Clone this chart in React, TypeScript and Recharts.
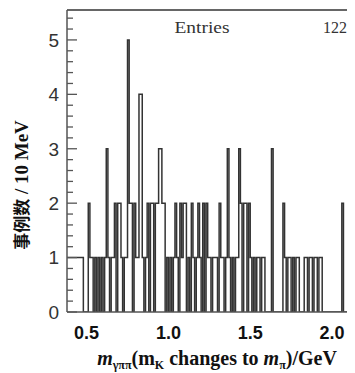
import React from 'react';
import { LineChart, Line, XAxis, YAxis, ReferenceLine, Label } from 'recharts';

// Histogram: events per 10 MeV bin, starting at 0.38 GeV
const binStart = 0.38;
const binWidth = 0.01;
const counts = [
  1, 1, 1, 1, 1, 1, 1, 1, 1, 1,
  0, 0, 0, 2, 1, 1, 0, 1, 0, 1,
  0, 1, 0, 1, 3, 1, 0, 1, 1, 2,
  0, 2, 2, 1, 0, 1, 1, 5, 2, 2,
  0, 2, 1, 1, 4, 4, 1, 0, 1, 2,
  0, 2, 2, 0, 2, 2, 3, 3, 2, 2,
  0, 1, 0, 1, 0, 1, 2, 1, 0, 2,
  1, 2, 2, 0, 1, 0, 2, 1, 0, 1,
  2, 1, 0, 2, 0, 2, 1, 1, 0, 1,
  1, 1, 0, 2, 1, 1, 0, 1, 3, 1,
  0, 1, 0, 1, 1, 3, 2, 0, 2, 2,
  0, 2, 1, 0, 1, 0, 1, 1, 0, 1,
  1, 0, 0, 0, 0, 3, 0, 0, 0, 0,
  0, 0, 2, 1, 0, 1, 1, 0, 1, 0,
  1, 1, 0, 0, 0, 1, 1, 0, 1, 1,
  0, 1, 1, 0, 1, 1, 0, 0, 0, 0,
  0, 0, 0, 0, 0, 0, 0, 0, 2, 0,
  0, 0, 0, 0, 0, 1, 0, 0, 0, 0,
];
const xDomain = [0.38, 2.22];
const yDomain = [0, 5.55];
const xTicks = [0.5, 1.0, 1.5, 2.0];
const yTicks = [
  0, 0.2, 0.4, 0.6, 0.8, 1, 1.2, 1.4, 1.6, 1.8, 2, 2.2, 2.4, 2.6, 2.8,
  3, 3.2, 3.4, 3.6, 3.8, 4, 4.2, 4.4, 4.6, 4.8, 5, 5.2, 5.4,
];
const entriesLabel = 'Entries';
const entriesValue = '122';
const yTitleCJK = '事例数';
const yTitleLatin = ' / 10 MeV';

const data = counts.map((c, i) => ({ x: +(binStart + i * binWidth).toFixed(2), y: c }));
data.push({ x: +(binStart + counts.length * binWidth).toFixed(2), y: counts[counts.length - 1] });

const YTick = (props: any) => {
  const { x, y, payload } = props;
  const v = payload.value;
  const major = Math.abs(v - Math.round(v)) < 1e-6;
  return (
    <g>
      <line x1={x} y1={y} x2={x + (major ? 10 : 6)} y2={y} stroke="#555" strokeWidth={1.3} />
      {major && (
        <text x={x - 8} y={y} dy="0.36em" textAnchor="end" fontFamily="Liberation Sans, Arial, sans-serif" fontSize={19} fill="#333">
          {Math.round(v)}
        </text>
      )}
    </g>
  );
};

const XTick = (props: any) => {
  const { x, y, payload } = props;
  return (
    <text x={x} y={y + 27} textAnchor="middle" fontFamily="Liberation Sans, Arial, sans-serif" fontWeight="bold" fontSize={18} fill="#111">
      {Number(payload.value).toFixed(1)}
    </text>
  );
};

const XTitle = (props: any) => {
  const vb = props.viewBox || { x: 59, y: 304 };
  const cx = vb.x + 150;
  const by = vb.y + 53;
  return (
    <text x={cx} y={by} textAnchor="middle" fontFamily="Liberation Serif, serif" fontWeight="bold" fontSize={20} fill="#111">
      <tspan fontStyle="italic">m</tspan>
      <tspan fontSize={12} dy={4}>γππ</tspan>
      <tspan dy={-4}>(m</tspan>
      <tspan fontSize={12} dy={4}>K</tspan>
      <tspan dy={-4}> changes to </tspan>
      <tspan fontStyle="italic">m</tspan>
      <tspan fontSize={12} dy={4}>π</tspan>
      <tspan dy={-4}>)/GeV</tspan>
    </text>
  );
};

const YTitle = (props: any) => {
  const cx = 14;
  const cy = 177;
  return (
    <text x={cx} y={cy} dy="0.35em" textAnchor="middle" transform={`rotate(-90, ${cx}, ${cy})`} fontWeight="bold" fill="#111">
      <tspan fontFamily="Noto Sans CJK SC, sans-serif" fontSize={17}>{yTitleCJK}</tspan>
      <tspan fontFamily="Liberation Serif, serif" fontSize={19}>{yTitleLatin}</tspan>
    </text>
  );
};

export default function App() {
  return (
    <div style={{ width: 347, height: 365, overflow: 'hidden' }}>
      <LineChart width={360} height={365} data={data} margin={{ top: 2, right: 0, bottom: 0, left: 0 }}>
        <XAxis
          type="number"
          dataKey="x"
          domain={xDomain}
          ticks={xTicks}
          tick={<XTick />}
          tickLine={false}
          tickSize={0}
          tickMargin={0}
          interval={0}
          allowDataOverflow
          height={61}
          axisLine={{ stroke: '#555', strokeWidth: 1.5 }}
        >
          <Label content={<XTitle />} />
        </XAxis>
        <YAxis
          type="number"
          domain={yDomain}
          ticks={yTicks}
          tick={<YTick />}
          tickLine={false}
          tickSize={0}
          tickMargin={0}
          interval={0}
          allowDataOverflow
          width={59}
          axisLine={{ stroke: '#555', strokeWidth: 1.5 }}
        >
          <Label content={<YTitle />} />
        </YAxis>
        <ReferenceLine y={yDomain[1]} stroke="#666" strokeWidth={1.8} />
        <Line
          type="stepAfter"
          dataKey="y"
          stroke="#333"
          strokeWidth={1.5}
          dot={false}
          isAnimationActive={false}
        />
        <text x={194} y={25} textAnchor="middle" fontFamily="Liberation Serif, serif" fontSize={16} fill="#333" textLength={55} lengthAdjust="spacingAndGlyphs">
          {entriesLabel}
        </text>
        <text x={339} y={25} textAnchor="end" fontFamily="Liberation Serif, serif" fontSize={16} fill="#333">
          {entriesValue}
        </text>
      </LineChart>
    </div>
  );
}
